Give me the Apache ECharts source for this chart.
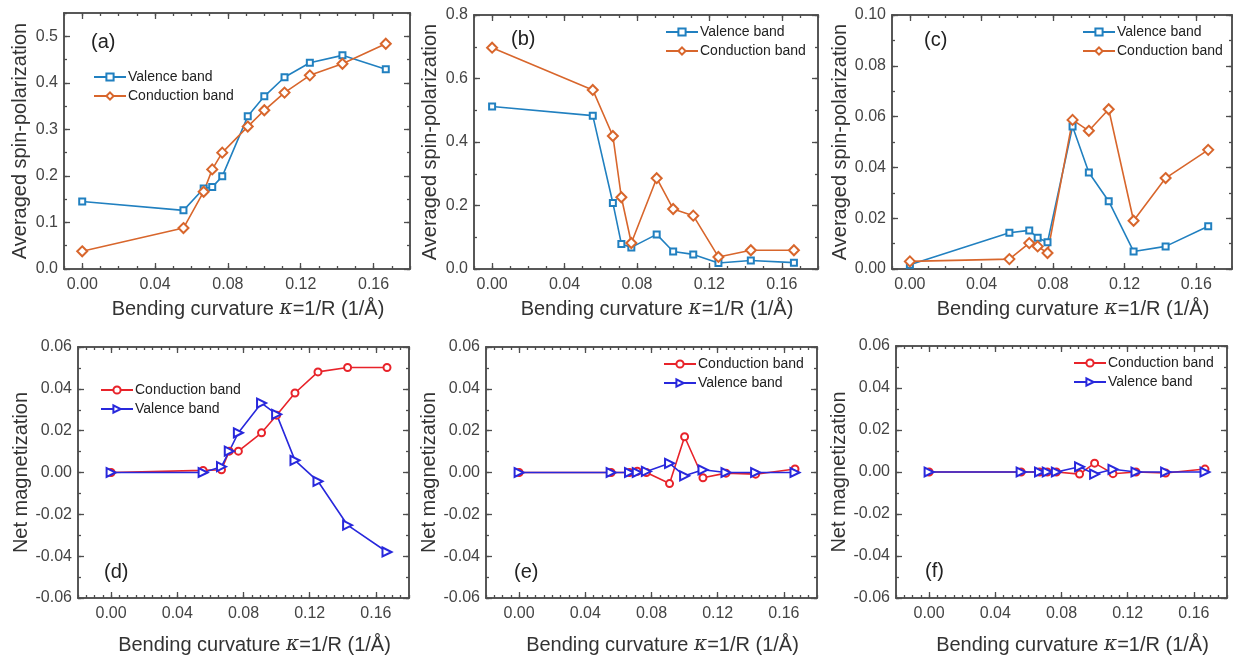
<!DOCTYPE html>
<html>
<head>
<meta charset="utf-8">
<title>Spin-polarization and net magnetization</title>
<script src="https://cdn.jsdelivr.net/npm/echarts@6/dist/echarts.min.js"></script>
<style>
  html, body { margin: 0; padding: 0; background: #fff; }
  #chart { width: 1233px; height: 656px; }
</style>
</head>
<body>
<div id="chart"></div>
<script>
// bending curvature kappa = 1/R (1/A), same for every panel
var kappa = [0, 0.0556, 0.0667, 0.0714, 0.0769, 0.0909, 0.1, 0.1111, 0.125, 0.1429, 0.1667];

// (a)-(c) averaged spin-polarization
var aValence    = [0.145, 0.126, 0.173, 0.176, 0.199, 0.328, 0.371, 0.412, 0.443, 0.459, 0.429];
var aConduction = [0.038, 0.088, 0.166, 0.214, 0.250, 0.306, 0.341, 0.379, 0.416, 0.441, 0.484];
var bValence    = [0.512, 0.483, 0.208, 0.079, 0.068, 0.109, 0.055, 0.046, 0.019, 0.027, 0.020];
var bConduction = [0.697, 0.564, 0.419, 0.226, 0.082, 0.286, 0.189, 0.168, 0.038, 0.059, 0.059];
var cValence    = [0.0017, 0.0143, 0.0152, 0.0123, 0.0105, 0.0561, 0.0380, 0.0267, 0.0069, 0.0089, 0.0168];
var cConduction = [0.0030, 0.0039, 0.0102, 0.0089, 0.0063, 0.0587, 0.0544, 0.0629, 0.0190, 0.0358, 0.0469];

// (d)-(f) net magnetization
var dConduction = [0, 0.0010, 0.0013, 0.0102, 0.0102, 0.0190, 0.0274, 0.0380, 0.0481, 0.0502, 0.0502];
var dValence    = [0, 0, 0.0028, 0.0102, 0.0190, 0.0332, 0.0278, 0.0058, -0.0042, -0.0252, -0.0380];
var eConduction = [0, 0, 0, 0.0006, 0, -0.0053, 0.0171, -0.0025, -0.0003, -0.0008, 0.0017];
var eValence    = [0, 0, 0, 0, 0.0005, 0.0044, -0.0016, 0.0013, 0, 0, 0];
var fConduction = [0, 0, 0, 0, 0, -0.0010, 0.0042, -0.0008, 0, -0.0005, 0.0014];
var fValence    = [0, 0, 0, 0, 0, 0.0025, -0.0010, 0.0013, 0, 0, 0];

var xTicks = [0, 0.04, 0.08, 0.12, 0.16];

var FONT = 'Liberation Sans, Arial, sans-serif';
var AXIS_COLOR = '#4d4d4d';
var BLUE_TOP = '#2180c0', ORANGE = '#d8662c';
var RED = '#e8232a', BLUE = '#2828dc';

function range(a, b, step) {
    var out = [];
    var n = Math.round((b - a) / step);
    for (var i = 0; i <= n; i++) out.push(+(a + i * step).toFixed(6));
    return out;
}
function pairs(ys) {
    return kappa.map(function (x, i) { return [x, ys[i]]; });
}

var option = {
    animation: false,
    backgroundColor: '#fff',
    textStyle: { fontFamily: FONT },
    grid: [], xAxis: [], yAxis: [], series: [], legend: [], title: []
};

function addPanel(p) {
    var g = option.grid.length;
    option.grid.push({ left: p.rect[0], top: p.rect[1], width: p.rect[2], height: p.rect[3], containLabel: false });
    var xi = option.xAxis.length, yi = option.yAxis.length;

    function axisBase(pos, ticks, len, min, max) {
        return {
            type: 'value', gridIndex: g, position: pos, min: min, max: max,
            axisLine: { show: true, onZero: false, lineStyle: { color: AXIS_COLOR, width: 1.5 } },
            axisTick: { show: true, inside: true, length: len, customValues: ticks,
                        lineStyle: { color: AXIS_COLOR, width: 1.3 } },
            axisLabel: { show: false },
            splitLine: { show: false }
        };
    }
    // x axes: bottom major (labels + name), bottom minor, top major, top minor
    var xb = axisBase('bottom', xTicks, 6, p.xMin, p.xMax);
    xb.axisLabel = { show: true, customValues: xTicks, color: '#444', fontSize: 16, margin: 8,
                     fontFamily: FONT, formatter: function (v) { return v.toFixed(2); } };
    xb.name = 'Bending curvature {k|\u03ba}=1/R (1/\u00c5)';
    xb.nameLocation = 'middle';
    xb.nameGap = p.xNameGap;
    xb.nameTextStyle = { fontSize: 20, color: '#333', fontFamily: FONT, padding: [0, 0, 0, 22],
                         rich: { k: { fontSize: 20, fontStyle: 'italic', fontFamily: 'DejaVu Serif', color: '#333' } } };
    option.xAxis.push(xb);
    option.xAxis.push(axisBase('bottom', range(p.xMin, p.xMax, p.xMinor), 3, p.xMin, p.xMax));
    option.xAxis.push(axisBase('top', xTicks, 6, p.xMin, p.xMax));
    option.xAxis.push(axisBase('top', range(p.xMin, p.xMax, p.xMinor), 3, p.xMin, p.xMax));

    var yTicks = range(p.yMin, p.yLastTick, p.yStep);
    var yl = axisBase('left', yTicks, 6, p.yMin, p.yMax);
    yl.axisLabel = { show: true, customValues: yTicks, color: '#444', fontSize: 16, margin: 6,
                     fontFamily: FONT, formatter: function (v) { return v.toFixed(p.yDec); } };
    yl.name = p.yName;
    yl.nameLocation = 'middle';
    yl.nameGap = p.yNameGap;
    yl.nameTextStyle = { fontSize: 20, color: '#333', fontFamily: FONT };
    option.yAxis.push(yl);
    option.yAxis.push(axisBase('left', range(p.yMin, p.yMax, p.yMinor), 3, p.yMin, p.yMax));
    option.yAxis.push(axisBase('right', yTicks, 6, p.yMin, p.yMax));
    option.yAxis.push(axisBase('right', range(p.yMin, p.yMax, p.yMinor), 3, p.yMin, p.yMax));

    var names = [];
    p.series.forEach(function (s) {
        var id = p.tag + ':' + s.name;
        names.push(id);
        option.series.push({
            type: 'line', name: id, xAxisIndex: xi, yAxisIndex: yi,
            data: pairs(s.data),
            symbol: s.symbol, symbolSize: s.size, symbolRotate: s.rotate || 0,
            showAllSymbol: true,
            lineStyle: { color: s.color, width: 1.6 },
            itemStyle: { color: s.color, borderColor: s.color, borderWidth: 1.3 }
        });
    });
    option.legend.push({
        data: names, orient: 'vertical', left: p.legend[0], top: p.legend[1],
        padding: 0, itemWidth: 32, itemHeight: 9, itemGap: 5,
        textStyle: { fontSize: 14, color: '#222', fontFamily: FONT, padding: [0, 0, 0, -3] },
        formatter: function (n) { return n.split(':')[1]; },
        selectedMode: false
    });
    option.title.push({
        text: '(' + p.tag + ')', left: p.label[0], top: p.label[1],
        textStyle: { fontSize: 20, fontWeight: 'normal', color: '#222', fontFamily: FONT }
    });
}

var topCfg = { xMin: -0.01, xMax: 0.18, xMinor: 0.01, xNameGap: 30, yNameGap: 34,
               yName: 'Averaged spin-polarization' };
var botCfg = { xMin: -0.02, xMax: 0.18, xMinor: 0.005, xNameGap: 37, yNameGap: 45,
               yName: 'Net magnetization', yMin: -0.06, yMax: 0.06, yLastTick: 0.06,
               yStep: 0.02, yMinor: 0.01, yDec: 2 };

function merge(base, extra) {
    var o = {};
    for (var k in base) o[k] = base[k];
    for (var k2 in extra) o[k2] = extra[k2];
    return o;
}

addPanel(merge(topCfg, {
    tag: 'a', rect: [64, 13, 346, 256], yMin: 0, yMax: 0.55, yLastTick: 0.5, yStep: 0.1, yMinor: 0.05, yDec: 1,
    legend: [93, 70], label: [86, 27],
    series: [
        { name: 'Valence band', data: aValence, color: BLUE_TOP, symbol: 'emptyRect', size: 6 },
        { name: 'Conduction band', data: aConduction, color: ORANGE, symbol: 'emptyDiamond', size: 10 }
    ]
}));
addPanel(merge(topCfg, {
    tag: 'b', rect: [474, 15, 344, 254], yMin: 0, yMax: 0.8, yLastTick: 0.8, yStep: 0.2, yMinor: 0.1, yDec: 1,
    legend: [665, 25], label: [506, 24],
    series: [
        { name: 'Valence band', data: bValence, color: BLUE_TOP, symbol: 'emptyRect', size: 6 },
        { name: 'Conduction band', data: bConduction, color: ORANGE, symbol: 'emptyDiamond', size: 10 }
    ]
}));
addPanel(merge(topCfg, {
    tag: 'c', rect: [892, 15, 340, 254], yMin: 0, yMax: 0.1, yLastTick: 0.1, yStep: 0.02, yMinor: 0.01, yDec: 2,
    legend: [1082, 25], label: [919, 25],
    series: [
        { name: 'Valence band', data: cValence, color: BLUE_TOP, symbol: 'emptyRect', size: 6 },
        { name: 'Conduction band', data: cConduction, color: ORANGE, symbol: 'emptyDiamond', size: 10 }
    ]
}));
addPanel(merge(botCfg, {
    tag: 'd', rect: [78, 347, 331, 254], legend: [100, 383], label: [99, 557],
    series: [
        { name: 'Conduction band', data: dConduction, color: RED, symbol: 'emptyCircle', size: 7 },
        { name: 'Valence band', data: dValence, color: BLUE, symbol: 'emptyTriangle', size: 9, rotate: -90 }
    ]
}));
addPanel(merge(botCfg, {
    tag: 'e', rect: [486, 347, 331, 254], legend: [663, 357], label: [509, 557],
    series: [
        { name: 'Conduction band', data: eConduction, color: RED, symbol: 'emptyCircle', size: 7 },
        { name: 'Valence band', data: eValence, color: BLUE, symbol: 'emptyTriangle', size: 9, rotate: -90 }
    ]
}));
addPanel(merge(botCfg, {
    tag: 'f', rect: [896, 346, 331, 254], legend: [1073, 356], label: [920, 556],
    series: [
        { name: 'Conduction band', data: fConduction, color: RED, symbol: 'emptyCircle', size: 7 },
        { name: 'Valence band', data: fValence, color: BLUE, symbol: 'emptyTriangle', size: 9, rotate: -90 }
    ]
}));

var chart = echarts.init(document.getElementById('chart'), null, { renderer: 'canvas' });
chart.setOption(option);
</script>
</body>
</html>
